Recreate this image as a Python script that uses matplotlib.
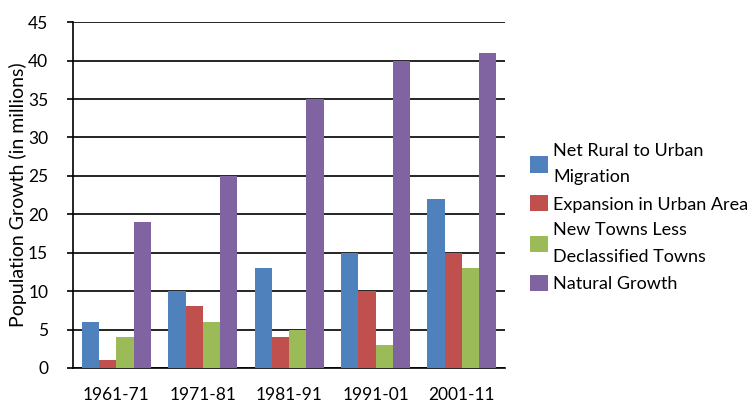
import numpy as np
import matplotlib.pyplot as plt

plt.rcParams['font.family'] = ['Lato', 'DejaVu Sans']

periods = ["1961-71", "1971-81", "1981-91", "1991-01", "2001-11"]
migration = [6, 10, 13, 15, 22]
expansion = [1, 8, 4, 10, 15]
new_towns = [4, 6, 5, 3, 13]
natural = [19, 25, 35, 40, 41]

labels = ["Net Rural to Urban\nMigration", "Expansion in Urban Area",
          "New Towns Less\nDeclassified Towns", "Natural Growth"]
colors = ["#4F81BD", "#C0504D", "#9BBB59", "#8064A2"]
series = [migration, expansion, new_towns, natural]

fig = plt.figure(figsize=(7.55, 4.03), dpi=100)
ax = fig.add_axes([0.097, 0.087, 0.572, 0.858])

x = np.arange(len(periods))
w = 0.2
for i, (vals, c, lab) in enumerate(zip(series, colors, labels)):
    ax.bar(x + (i - 1.5) * w, vals, w, color=c, label=lab, zorder=3)

ax.set_ylim(0, 45)
ax.set_yticks(range(0, 46, 5))
ax.set_xlim(-0.5, len(periods) - 0.5)
ax.set_xticks(x)
ax.set_xticklabels(periods)
ax.yaxis.grid(True, color="black", linewidth=1.2, zorder=0)
ax.set_axisbelow(True)
for s in ["top", "right"]:
    ax.spines[s].set_visible(False)
ax.spines["left"].set_linewidth(1.2)
ax.spines["bottom"].set_linewidth(1.2)
ax.tick_params(axis="y", length=4, width=1.2, labelsize=12.5, pad=14)
ax.tick_params(axis="x", length=0, labelsize=12.5, pad=14)
ax.set_ylabel("Population Growth (in millions)", fontsize=14, labelpad=1)

leg = ax.legend(loc="center left", bbox_to_anchor=(1.04, 0.435), frameon=False,
                fontsize=13, handlelength=1.0, handleheight=1.0,
                handletextpad=0.3, labelspacing=0.55, borderaxespad=0)
for t in leg.get_texts():
    t.set_linespacing(1.8)

fig.savefig("out.png", dpi=100)
